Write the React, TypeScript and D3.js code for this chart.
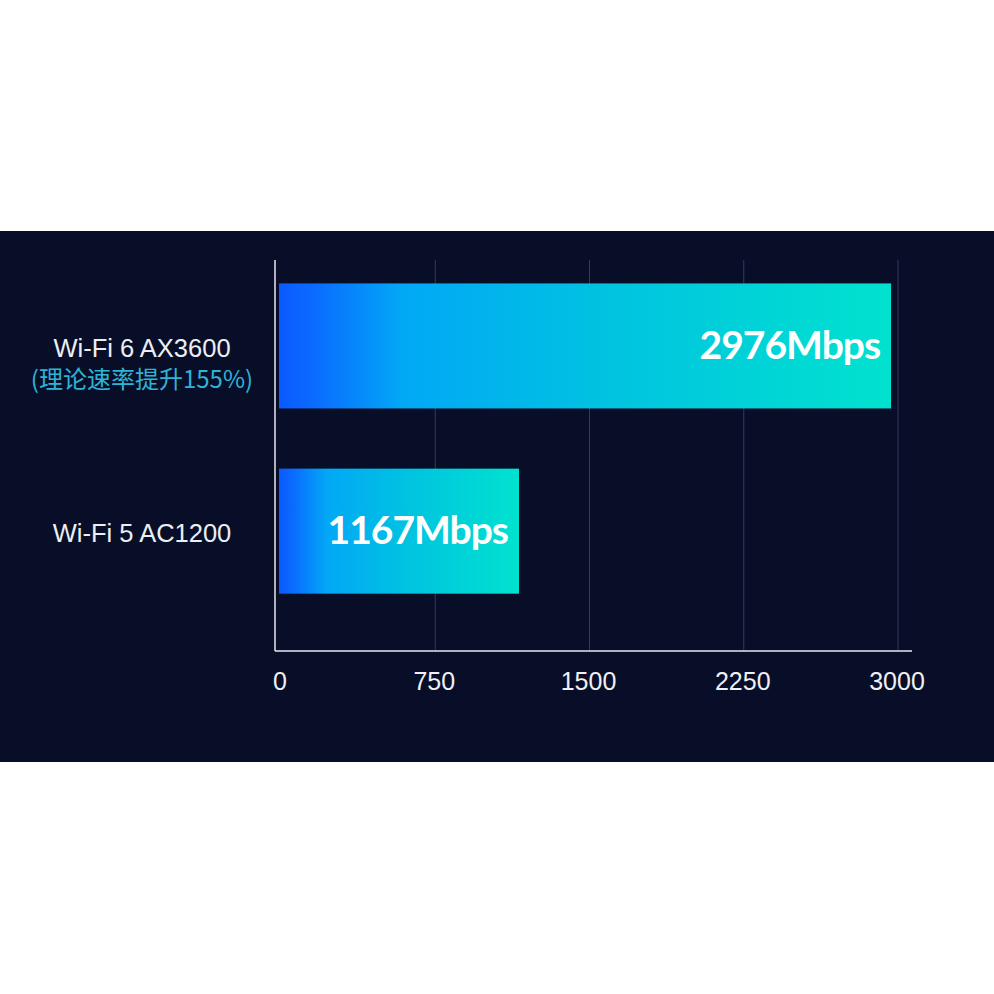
import React, { useRef, useEffect } from 'react';
import * as d3 from 'd3';

// chart data
const categories = ['Wi-Fi 6 AX3600', 'Wi-Fi 5 AC1200'];
const subtitles = ['(理论速率提升155%)', ''];
const speeds = [2976, 1167];
const valueLabels = ['2976Mbps', '1167Mbps'];
const xTicks = [0, 750, 1500, 2250, 3000];

const WIDTH = 994;
const HEIGHT = 994;

/**
 * Horizontal bar chart comparing Wi-Fi throughput
 */
const App: React.FC = () => {
  const svgRef = useRef<SVGSVGElement>(null);

  useEffect(() => {
    if (!svgRef.current) return;

    const svg = d3.select(svgRef.current);
    svg.selectAll('*').remove();

    // page background + dark band
    svg.append('rect')
      .attr('width', WIDTH)
      .attr('height', HEIGHT)
      .attr('fill', '#ffffff');

    svg.append('rect')
      .attr('x', 0)
      .attr('y', 231)
      .attr('width', WIDTH)
      .attr('height', 531)
      .attr('fill', '#080e28');

    const plotTop = 260;
    const plotBottom = 651;
    const axisX = 275;

    const xScale = d3.scaleLinear()
      .domain([0, 3000])
      .range([279, 896]);

    const yScale = d3.scaleBand<string>()
      .domain(categories)
      .range([plotTop, plotBottom])
      .paddingInner(0.325)
      .paddingOuter(0.218)
      .align(0.29);

    // gradient for bars
    const defs = svg.append('defs');
    const grad = defs.append('linearGradient')
      .attr('id', 'barGrad')
      .attr('x1', 0).attr('y1', 0)
      .attr('x2', 1).attr('y2', 0);
    [
      { o: 0, c: '#0a5aff' },
      { o: 0.06, c: '#0a6cff' },
      { o: 0.2, c: '#02a8f6' },
      { o: 0.55, c: '#00c4e0' },
      { o: 1, c: '#00e2cf' }
    ].forEach(s => {
      grad.append('stop').attr('offset', s.o).attr('stop-color', s.c);
    });

    // grid lines
    svg.append('g')
      .selectAll('line')
      .data(xTicks.slice(1))
      .join('line')
      .attr('x1', d => xScale(d) + 2)
      .attr('x2', d => xScale(d) + 2)
      .attr('y1', plotTop)
      .attr('y2', plotBottom)
      .attr('stroke', '#343b57')
      .attr('stroke-width', 1);

    // bars
    svg.append('g')
      .selectAll('rect')
      .data(speeds)
      .join('rect')
      .attr('x', xScale(0))
      .attr('y', (_, i) => yScale(categories[i]) || 0)
      .attr('width', d => xScale(d) - xScale(0))
      .attr('height', yScale.bandwidth())
      .attr('fill', 'url(#barGrad)');

    // value labels inside bars
    svg.append('g')
      .selectAll('text')
      .data(speeds)
      .join('text')
      .attr('x', d => xScale(d) - 11)
      .attr('y', (_, i) => (yScale(categories[i]) || 0) + yScale.bandwidth() / 2 + 13)
      .attr('text-anchor', 'end')
      .style('font-family', 'Lato, "Noto Sans", sans-serif')
      .style('font-weight', 700)
      .style('font-size', '39px')
      .style('letter-spacing', '-1px')
      .attr('fill', '#ffffff')
      .text((_, i) => valueLabels[i]);

    // axis lines
    svg.append('line')
      .attr('x1', axisX).attr('x2', axisX)
      .attr('y1', plotTop).attr('y2', plotBottom)
      .attr('stroke', '#e8e8ee')
      .attr('stroke-width', 1.5);

    svg.append('line')
      .attr('x1', axisX).attr('x2', 912)
      .attr('y1', plotBottom).attr('y2', plotBottom)
      .attr('stroke', '#e8e8ee')
      .attr('stroke-width', 1.5);

    // x tick labels
    svg.append('g')
      .selectAll('text')
      .data(xTicks)
      .join('text')
      .attr('x', d => xScale(d) + 1)
      .attr('y', 690)
      .attr('text-anchor', 'middle')
      .style('font-family', '"Liberation Sans", Arial, sans-serif')
      .style('font-size', '25px')
      .attr('fill', '#f0f0f4')
      .text(d => String(d));

    // category labels
    const catG = svg.append('g');
    categories.forEach((c, i) => {
      const cy = (yScale(c) || 0) + yScale.bandwidth() / 2;
      catG.append('text')
        .attr('x', 142)
        .attr('y', cy + 11)
        .attr('text-anchor', 'middle')
        .style('font-family', '"Liberation Sans", Arial, sans-serif')
        .style('font-size', '25.5px')
        .attr('fill', '#eceef2')
        .text(c);
      if (subtitles[i]) {
        catG.append('text')
          .attr('x', 142)
          .attr('y', cy + 42)
          .attr('text-anchor', 'middle')
          .style('font-family', '"Noto Sans CJK SC", sans-serif')
          .style('font-size', '24px')
          .attr('fill', '#2db4d6')
          .text(subtitles[i]);
      }
    });
  }, []);

  return (
    <svg
      ref={svgRef}
      width={WIDTH}
      height={HEIGHT}
      style={{ position: 'absolute', left: 0, top: 0, display: 'block' }}
    />
  );
};

export default App;
